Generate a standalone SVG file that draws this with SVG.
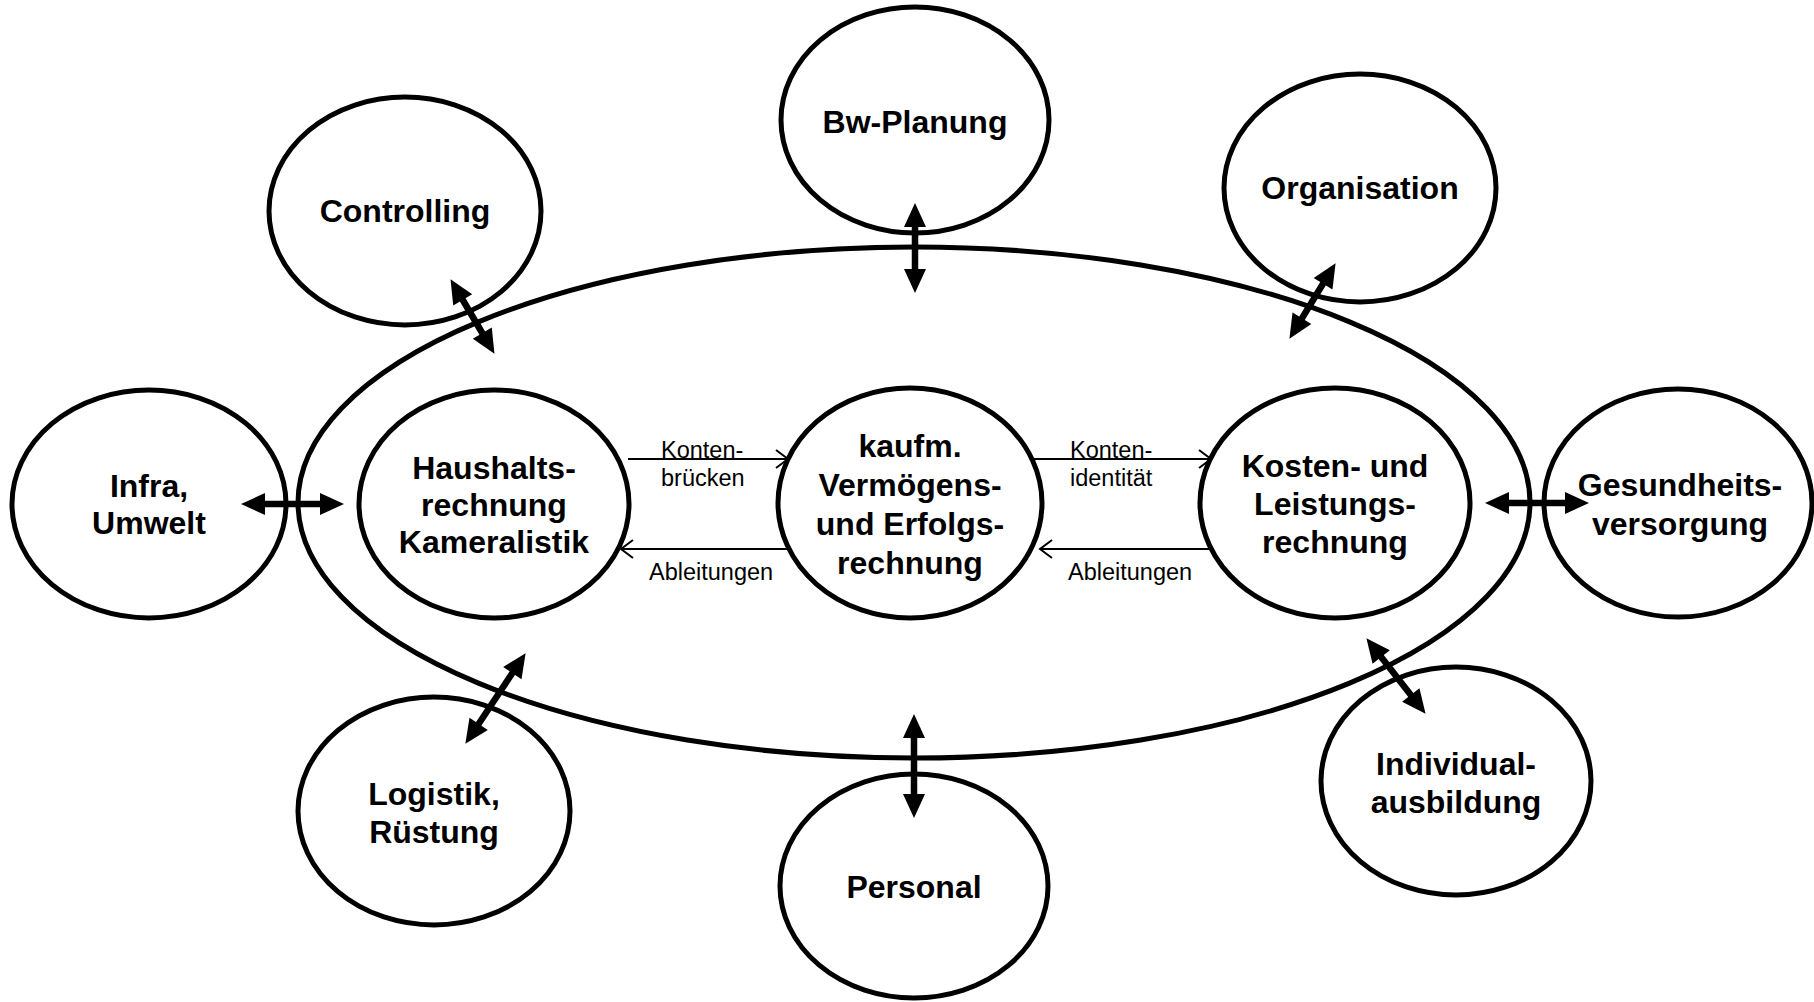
<svg xmlns="http://www.w3.org/2000/svg" width="1814" height="1002" viewBox="0 0 1814 1002">
<style>
.n{fill:#fff;stroke:#000;stroke-width:5}
.big{fill:none;stroke:#000;stroke-width:5}
.t{font-family:"Liberation Sans",Arial,sans-serif;font-weight:bold;font-size:32px;text-anchor:middle;fill:#000}
.s{font-family:"Liberation Sans",Arial,sans-serif;font-size:23.5px;fill:#000}
.thick{stroke:#000;stroke-width:6.5;fill:none;marker-start:url(#hb);marker-end:url(#hb)}
.thin{stroke:#000;stroke-width:2;fill:none;marker-end:url(#ho)}
</style>
<defs>
<marker id="hb" markerUnits="userSpaceOnUse" viewBox="-1 -12 26 24" refX="1" refY="0" markerWidth="26" markerHeight="24" orient="auto-start-reverse">
<path d="M0,-11 L24,0 L0,11 Z" fill="#000"/>
</marker>
<marker id="ho" markerUnits="userSpaceOnUse" viewBox="-14 -11 16 22" refX="0" refY="0" markerWidth="16" markerHeight="22" orient="auto">
<path d="M-12,-9 L0,0 L-12,9" fill="none" stroke="#000" stroke-width="2"/>
</marker>
</defs>
<ellipse id="outer" class="big" cx="914" cy="502.5" rx="616" ry="255.5"/>
<g id="bw-planung"><ellipse class="n" cx="915" cy="120" rx="134" ry="113"/><text class="t" x="915" y="133">Bw-Planung</text></g>
<g id="controlling"><ellipse class="n" cx="405" cy="211" rx="136" ry="114"/><text class="t" x="405" y="222">Controlling</text></g>
<g id="organisation"><ellipse class="n" cx="1360" cy="188" rx="136" ry="114"/><text class="t" x="1360" y="199">Organisation</text></g>
<g id="infra"><ellipse class="n" cx="149" cy="504" rx="137" ry="114"/><text class="t" x="149" y="497">Infra,</text><text class="t" x="149" y="534">Umwelt</text></g>
<g id="haushalt"><ellipse class="n" cx="494" cy="504" rx="135" ry="114"/><text class="t" x="494" y="479">Haushalts-</text><text class="t" x="494" y="516">rechnung</text><text class="t" x="494" y="553">Kameralistik</text></g>
<g id="kaufm"><ellipse class="n" cx="910" cy="503" rx="132" ry="115"/><text class="t" x="910" y="457">kaufm.</text><text class="t" x="910" y="496">Vermögens-</text><text class="t" x="910" y="535">und Erfolgs-</text><text class="t" x="910" y="574">rechnung</text></g>
<g id="kosten"><ellipse class="n" cx="1335" cy="503" rx="135" ry="115"/><text class="t" x="1335" y="477">Kosten- und</text><text class="t" x="1335" y="515">Leistungs-</text><text class="t" x="1335" y="553">rechnung</text></g>
<g id="gesundheit"><ellipse class="n" cx="1678" cy="503" rx="134" ry="114"/><text class="t" x="1680" y="496">Gesundheits-</text><text class="t" x="1680" y="535">versorgung</text></g>
<g id="logistik"><ellipse class="n" cx="434" cy="811" rx="136" ry="114"/><text class="t" x="434" y="805">Logistik,</text><text class="t" x="434" y="843">Rüstung</text></g>
<g id="personal"><ellipse class="n" cx="914" cy="886" rx="134" ry="112"/><text class="t" x="914" y="898">Personal</text></g>
<g id="individual"><ellipse class="n" cx="1456" cy="781" rx="135" ry="114"/><text class="t" x="1456" y="775">Individual-</text><text class="t" x="1456" y="813">ausbildung</text></g>
<g id="connectors">
<line class="thick" x1="915" y1="226" x2="915" y2="270"/>
<line class="thick" x1="462.2" y1="299" x2="482.8" y2="334"/>
<line class="thick" x1="1323.6" y1="282.8" x2="1301.4" y2="319.2"/>
<line class="thick" x1="264" y1="504" x2="321" y2="504"/>
<line class="thick" x1="1508" y1="503" x2="1566" y2="503"/>
<line class="thick" x1="512.9" y1="672.3" x2="478.1" y2="724.7"/>
<line class="thick" x1="914" y1="737" x2="914" y2="795"/>
<line class="thick" x1="1380.6" y1="656.3" x2="1411.4" y2="695.7"/>
<line class="thin" x1="628" y1="459" x2="788" y2="459"/>
<line class="thin" x1="790" y1="549" x2="621" y2="549"/>
<line class="thin" x1="1033" y1="459" x2="1211" y2="459"/>
<line class="thin" x1="1213" y1="549" x2="1040" y2="549"/>
<text class="s" x="661" y="458">Konten-</text>
<text class="s" x="661" y="486">brücken</text>
<text class="s" x="649" y="580">Ableitungen</text>
<text class="s" x="1070" y="458">Konten-</text>
<text class="s" x="1070" y="486">identität</text>
<text class="s" x="1068" y="580">Ableitungen</text>
</g>
</svg>
